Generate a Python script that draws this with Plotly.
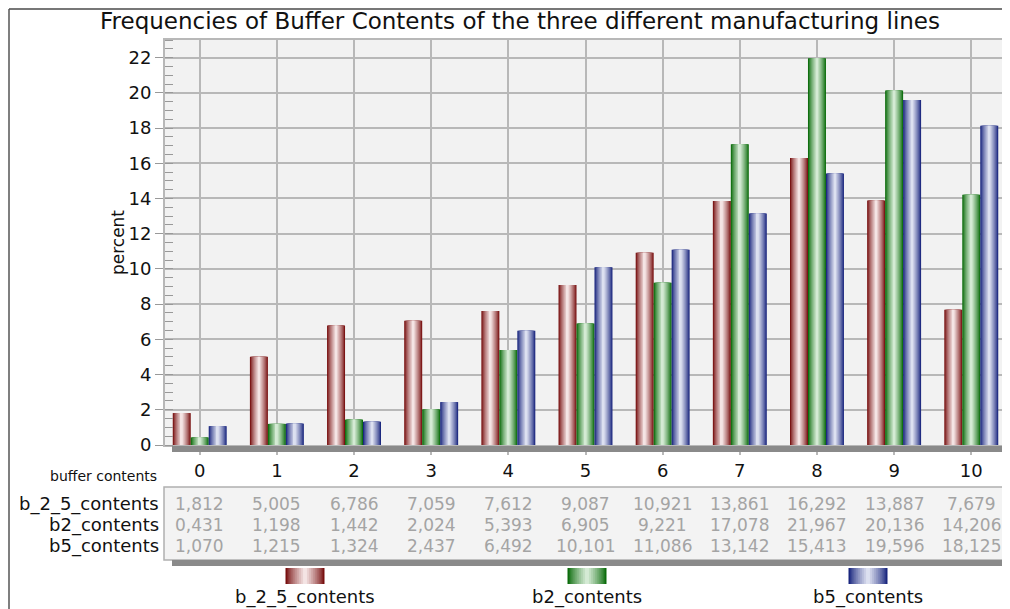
import plotly.graph_objects as go

categories = [0, 1, 2, 3, 4, 5, 6, 7, 8, 9, 10]
series_names = ["b_2_5_contents", "b2_contents", "b5_contents"]
b_2_5_contents = [1.812, 5.005, 6.786, 7.059, 7.612, 9.087, 10.921, 13.861, 16.292, 13.887, 7.679]
b2_contents = [0.431, 1.198, 1.442, 2.024, 5.393, 6.905, 9.221, 17.078, 21.967, 20.136, 14.206]
b5_contents = [1.070, 1.215, 1.324, 2.437, 6.492, 10.101, 11.086, 13.142, 15.413, 19.596, 18.125]
series_values = [b_2_5_contents, b2_contents, b5_contents]
y_ticks = [0, 2, 4, 6, 8, 10, 12, 14, 16, 18, 20, 22]

# colour ramps: (dark edge, light centre)
ramps = [((120, 16, 16), (244, 228, 228)),
         ((12, 108, 12), (212, 234, 212)),
         ((26, 38, 126), (220, 224, 240))]

# the page body has an 8px margin, so the figure starts at screen (8, 8)
OX, OY = 8, 8
SW, SH = 1010, 609
W, H = SW - OX, SH - OY
PL, PR, PT, PB = 165, 1006, 40, 445          # plot area in screen pixels
L, R, T, B = PL - OX, SW - PR, PT - OY, SH - PB
PW, PH = PR - PL, PB - PT


def px(xs):
    return (xs - PL) / PW


def py(ys):
    return (PB - ys) / PH


def mix(c1, c2, t):
    return "rgb(%d,%d,%d)" % tuple(round(a + (b - a) * t) for a, b in zip(c1, c2))


bar_w = 0.233
n_layers = 10
layers = [(1.0 - k / n_layers, (k / (n_layers - 1)) ** 0.8) for k in range(n_layers)]

fig = go.Figure()
for i, (name, vals) in enumerate(zip(series_names, series_values)):
    center = (i - 1) * bar_w
    dark, light = ramps[i]
    for frac, t in layers:
        w = bar_w * frac
        fig.add_trace(go.Bar(
            x=categories, y=vals, name=name, showlegend=False,
            offset=center - w / 2, width=w,
            marker=dict(color=mix(dark, light, t), line=dict(width=0)),
            hoverinfo="skip" if frac < 1 else None,
        ))

shapes = []
# floor strip under zero line
shapes.append(dict(type="rect", xref="paper", yref="paper", x0=px(172), x1=px(1012),
                   y0=py(446), y1=py(452), fillcolor="#8a8a8a", line=dict(width=0), layer="above"))
# table box
shapes.append(dict(type="rect", xref="paper", yref="paper", x0=px(164), x1=px(1009),
                   y0=py(487), y1=py(560), fillcolor="#f3f3f3", line=dict(color="#b0b0b0", width=1.5)))
shapes.append(dict(type="rect", xref="paper", yref="paper", x0=px(172), x1=px(1012),
                   y0=py(560), y1=py(566), fillcolor="#8a8a8a", line=dict(width=0)))
# outer frame
shapes.append(dict(type="line", xref="paper", yref="paper", x0=px(9), x1=px(1012),
                   y0=py(9), y1=py(9), line=dict(color="#777", width=2)))
shapes.append(dict(type="line", xref="paper", yref="paper", x0=px(9), x1=px(9),
                   y0=py(9), y1=py(612), line=dict(color="#555", width=1.5)))

annotations = []
# table rows
row_y = [504, 525, 546]
for name, vals, ry in zip(series_names, series_values, row_y):
    annotations.append(dict(text=name, xref="paper", yref="paper", x=px(161), y=py(ry),
                            xanchor="right", yanchor="middle", showarrow=False,
                            font=dict(size=18, color="#111")))
    for c, v in zip(categories, vals):
        annotations.append(dict(text=f"{v:.3f}".replace(".", ","), xref="x", yref="paper",
                                x=c, y=py(ry), xanchor="center", yanchor="middle",
                                showarrow=False, font=dict(size=17, color="#a4a4a4")))
annotations.append(dict(text="buffer contents", xref="paper", yref="paper", x=px(103), y=py(476),
                        xanchor="center", yanchor="middle", showarrow=False,
                        font=dict(size=14, color="#111")))

# custom legend
legend_cx = [305, 587, 868]
for name, cx, (dark, light) in zip(series_names, legend_cx, ramps):
    sw = 39
    for frac, t in layers:
        w = sw * frac
        shapes.append(dict(type="rect", xref="paper", yref="paper",
                           x0=px(cx - w / 2), x1=px(cx + w / 2), y0=py(568), y1=py(584),
                           fillcolor=mix(dark, light, t), line=dict(width=0)))
    annotations.append(dict(text=name, xref="paper", yref="paper", x=px(cx), y=py(597),
                            xanchor="center", yanchor="middle", showarrow=False,
                            font=dict(size=18, color="#111")))

fig.update_layout(
    width=W, height=H,
    margin=dict(l=L, r=R, t=T, b=B, autoexpand=False),
    paper_bgcolor="white", plot_bgcolor="#f2f2f2",
    barmode="overlay",
    font=dict(family="DejaVu Sans", color="#111"),
    title=dict(text="Frequencies of Buffer Contents of the three different manufacturing lines",
               x=(520 - OX) / W, xref="container", xanchor="center",
               y=1 - (21 - OY) / H, yref="container", yanchor="middle",
               font=dict(size=23, color="#111")),
    shapes=shapes, annotations=annotations,
    showlegend=False,
)
fig.update_xaxes(
    range=[-0.45, 10.45], tickvals=categories, ticktext=[str(c) for c in categories],
    showgrid=True, gridcolor="#b8b8b8", gridwidth=2,
    showline=True, mirror=True, linecolor="#b8b8b8", linewidth=2,
    ticks="outside", ticklen=8, tickcolor="#b8b8b8", tickwidth=2,
    tickfont=dict(size=18, color="#111"), zeroline=False,
)
fig.update_yaxes(
    range=[0, 23], tickvals=y_ticks,
    showgrid=True, gridcolor="#b8b8b8", gridwidth=2,
    showline=True, mirror=True, linecolor="#b8b8b8", linewidth=2,
    ticks="outside", ticklen=8, tickcolor="#999", tickwidth=1,
    minor=dict(dtick=0.5, ticks="inside", ticklen=8, tickcolor="#999", showgrid=False),
    tickfont=dict(size=18, color="#111"), zeroline=False,
    title=dict(text="percent", font=dict(size=17, color="#111"), standoff=0),
)

fig.write_html("out.html")
